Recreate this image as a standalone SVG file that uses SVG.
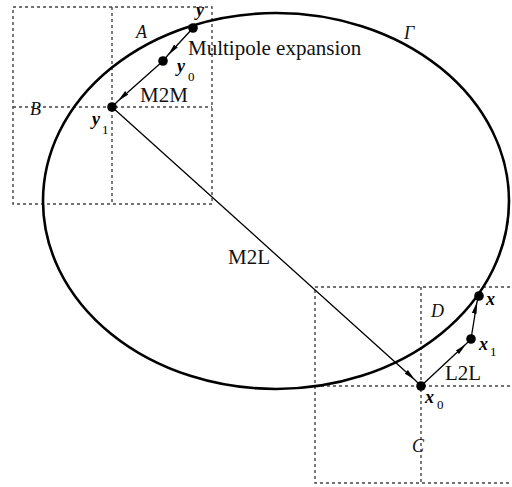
<svg xmlns="http://www.w3.org/2000/svg" width="512" height="487" viewBox="0 0 512 487">
<style>
.grid{fill:none;stroke:#444;stroke-width:1.4;stroke-dasharray:3 3}
.conn{fill:none;stroke:#000;stroke-width:1.3}
.dot{fill:#000}
.lbl{font-family:"Liberation Serif",serif;font-size:21px;fill:#111}
.it{font-family:"Liberation Serif",serif;font-style:italic;font-size:18px;fill:#111}
.bv{font-family:"Liberation Serif",serif;font-style:italic;font-weight:bold;font-size:18px;fill:#000}
.sub{font-family:"Liberation Serif",serif;font-size:13px;fill:#000}
</style>
<defs>
<marker id="ah" viewBox="0 0 12 6" refX="12" refY="3" markerWidth="12" markerHeight="6" markerUnits="userSpaceOnUse" orient="auto">
<path d="M0,0.6 L12,3 L0,5.4 Z" fill="#000"/>
</marker>
</defs>
<rect width="512" height="487" fill="#fff"/>
<g id="boxes">
<rect class="grid" x="13" y="7" width="199" height="197"/>
<line class="grid" x1="112" y1="7" x2="112" y2="204"/>
<line class="grid" x1="13" y1="107" x2="212" y2="107"/>
<rect class="grid" x="315" y="287" width="200" height="196"/>
<line class="grid" x1="421" y1="287" x2="421" y2="483"/>
<line class="grid" x1="315" y1="386" x2="512" y2="386"/>
</g>
<g id="boundary">
<ellipse cx="276" cy="201" rx="233" ry="188" fill="none" stroke="#000" stroke-width="2.6"/>
<text class="it" x="404" y="39">Γ</text>
</g>
<g id="connectors">
<path class="conn" d="M193,28 L168,55 L163,61" marker-mid="url(#ah)"/>
<path class="conn" d="M163,61 L118,101 L112,107" marker-mid="url(#ah)"/>
<path class="conn" d="M112,107 L415,380 L421,386" marker-mid="url(#ah)"/>
<path class="conn" d="M421,386 L466,344 L471,339" marker-mid="url(#ah)"/>
<path class="conn" d="M471,339 L477,302 L479,296" marker-mid="url(#ah)"/>
<text class="lbl" x="228" y="264">M2L</text>
<text class="lbl" x="188" y="55">Multipole expansion</text>
<text class="lbl" x="140" y="102">M2M</text>
<text class="lbl" x="445" y="380">L2L</text>
</g>
<g id="node-y">
<circle class="dot" cx="193" cy="28" r="4.8"/>
<text class="bv" x="196" y="16">y</text>
</g>
<g id="node-y0">
<circle class="dot" cx="163" cy="61" r="4.8"/>
<text class="bv" x="177" y="72">y</text><text class="sub" x="188" y="81">0</text>
</g>
<g id="node-y1">
<circle class="dot" cx="112" cy="107" r="4.8"/>
<text class="bv" x="92" y="125">y</text><text class="sub" x="102" y="134">1</text>
</g>
<g id="node-x0">
<circle class="dot" cx="421" cy="386" r="4.8"/>
<text class="bv" x="425" y="403">x</text><text class="sub" x="437" y="409">0</text>
</g>
<g id="node-x1">
<circle class="dot" cx="471" cy="339" r="4.8"/>
<text class="bv" x="479" y="350">x</text><text class="sub" x="490" y="356">1</text>
</g>
<g id="node-x">
<circle class="dot" cx="479" cy="296" r="4.8"/>
<text class="bv" x="486" y="305">x</text>
</g>
<g id="regions">
<text class="it" x="136" y="38">A</text>
<text class="it" x="30" y="115">B</text>
<text class="it" x="412" y="452">C</text>
<text class="it" x="431" y="317">D</text>
</g>
</svg>
